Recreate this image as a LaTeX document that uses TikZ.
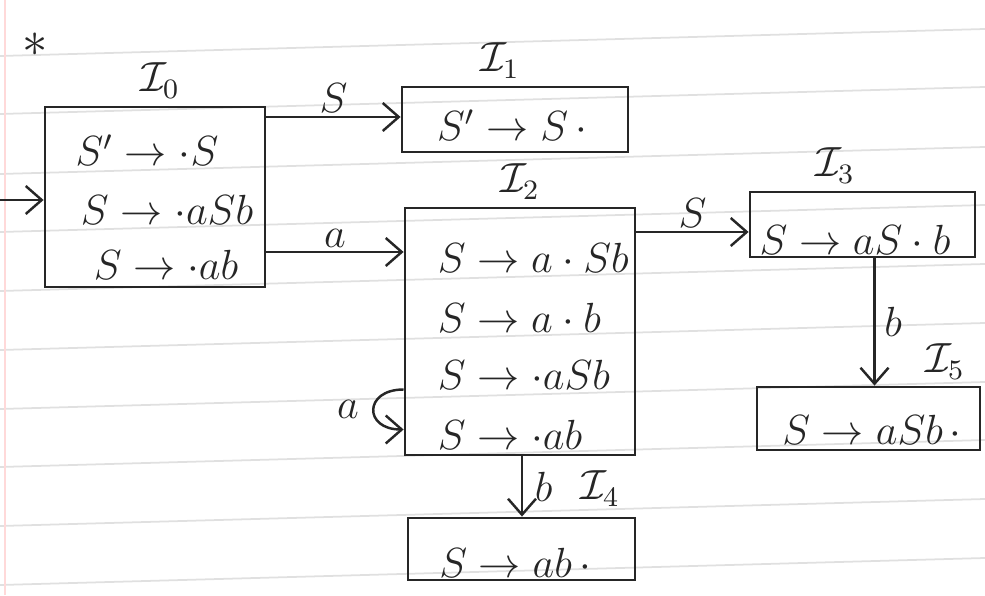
\documentclass[tikz,border=0pt]{standalone}
\usetikzlibrary{arrows.meta}
\tikzset{
  statebox/.style={draw, line width=0.8pt, inner sep=0pt},
  item/.style={font=\large, inner sep=1pt},
  setname/.style={font=\large, inner sep=1pt, anchor=south},
}
\begin{document}
\begin{tikzpicture}[>={Straight Barb[length=1.6mm,width=2.8mm]}, line width=0.7pt, color=black!85]
  \useasboundingbox (0,0) rectangle (9.85,5.95);
  % ruled paper
  \foreach \y in {52,110,170,228,287,346,405,463,522,581}
    \draw[black!12, line width=0.5pt] (0,{5.95-(\y+4)/100}) -- (9.85,{5.95-(\y-23)/100});
  \draw[red!15, line width=0.5pt] (0.05,0) -- (0.05,5.95);
  \node[font=\Large, inner sep=0pt] (star) at (0.35,5.50) {$\ast$};

  % item sets
  \node[statebox, minimum width=2.2cm, minimum height=1.8cm] (I0) at (1.55,3.98) {};
  \node[statebox, minimum width=2.26cm, minimum height=0.65cm] (I1) at (5.15,4.755) {};
  \node[statebox, minimum width=2.3cm, minimum height=2.47cm] (I2) at (5.20,2.635) {};
  \node[statebox, minimum width=2.25cm, minimum height=0.65cm] (I3) at (8.625,3.705) {};
  \node[statebox, minimum width=2.27cm, minimum height=0.62cm] (I4) at (5.215,0.46) {};
  \node[statebox, minimum width=2.23cm, minimum height=0.63cm] (I5) at (8.685,1.765) {};

  \node[setname] at (1.60,4.92) {$\mathcal{I}_0$};
  \node[setname] at (5.00,5.12) {$\mathcal{I}_1$};
  \node[setname] at (5.20,3.91) {$\mathcal{I}_2$};
  \node[setname] at (8.35,4.07) {$\mathcal{I}_3$};
  \node[setname] at (6.00,0.84) {$\mathcal{I}_4$};
  \node[setname] at (9.45,2.11) {$\mathcal{I}_5$};

  % items
  \node[item] (i0a) at (1.47,4.45) {$S'\rightarrow\cdot S$};
  \node[item] (i0b) at (1.67,3.85) {$S\rightarrow\cdot aSb$};
  \node[item] (i0c) at (1.66,3.30) {$S\rightarrow\cdot ab$};
  \node[item] (i1a) at (5.12,4.70) {$S'\rightarrow S\,\cdot$};
  \node[item, anchor=west] (i2a) at (4.33,3.37) {$S\rightarrow a\cdot Sb$};
  \node[item, anchor=west] (i2b) at (4.33,2.77) {$S\rightarrow a\cdot b$};
  \node[item, anchor=west] (i2c) at (4.33,2.20) {$S\rightarrow\cdot aSb$};
  \node[item, anchor=west] (i2d) at (4.33,1.60) {$S\rightarrow\cdot ab$};
  \node[item] (i3a) at (8.55,3.55) {$S\rightarrow aS\cdot b$};
  \node[item] (i4a) at (5.15,0.32) {$S\rightarrow ab\,\cdot$};
  \node[item] (i5a) at (8.72,1.65) {$S\rightarrow aSb\,\cdot$};

  % transitions
  \coordinate (start) at (0,3.95);
  \draw[->] (start) -- (start -| I0.west);
  \draw[->] ([yshift=0.8mm]I0.east |- i1a) -- node[above, item] {$S$} ([yshift=0.8mm]I1.west |- i1a);
  \draw[->] ([yshift=0.6mm]I0.east |- i2a) -- node[above, item] {$a$} ([yshift=0.6mm]I2.west |- i2a);
  \draw[->] ([yshift=0.8mm]I2.east |- i3a) -- node[above, item] {$S$} ([yshift=0.8mm]I3.west |- i3a);
  \draw[->] ([xshift=1.2mm]I3.south) -- node[right, item, xshift=0.5mm] {$b$} ([xshift=1.2mm]I3.south |- I5.north);
  \draw[->] ([xshift=0.2mm]I2.south) -- node[right, item, xshift=0.8mm] {$b$} ([xshift=0.2mm]I2.south |- I4.north);
  \draw[->] ([yshift=-5.8mm]I2.west) .. controls +(-0.4,0) and +(-0.4,0) .. node[left, item, xshift=-1mm] {$a$} ([yshift=-9.8mm]I2.west);
\end{tikzpicture}
\end{document}
